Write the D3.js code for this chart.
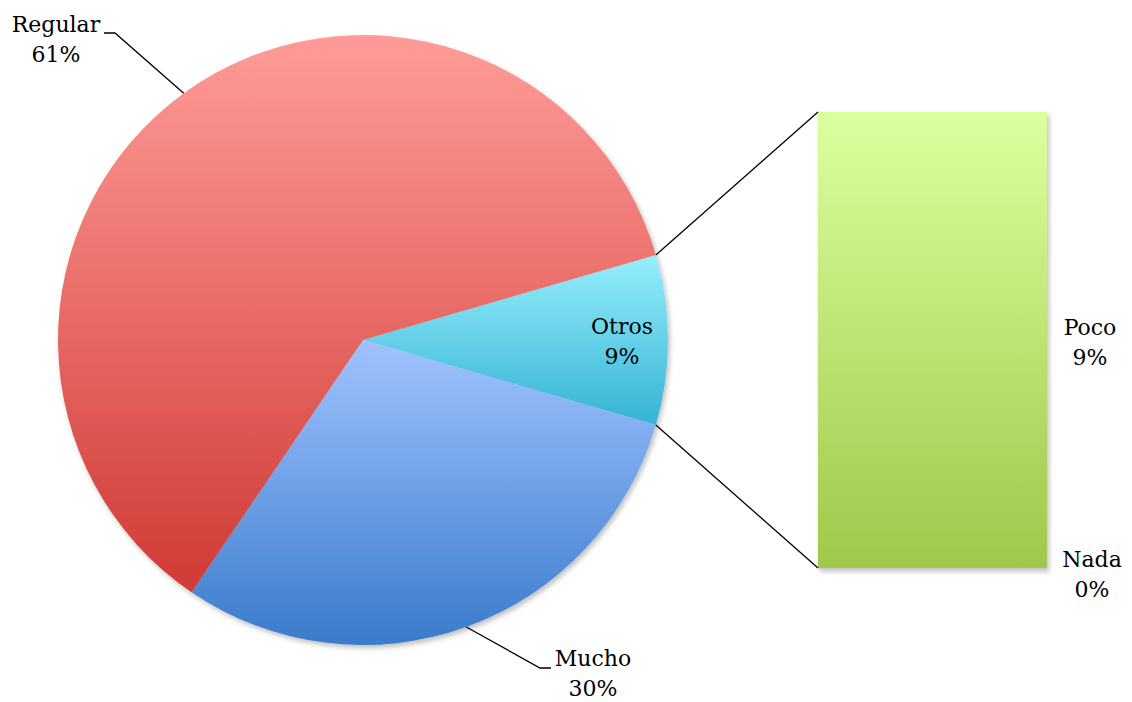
<!DOCTYPE html>
<html><head><meta charset="utf-8">
<script src="https://cdn.jsdelivr.net/npm/d3@7"></script>
<style>body{margin:0;background:#fff}svg{display:block}</style>
</head><body>
<svg id="c" width="1132" height="702"></svg>
<script>
// Data
const pieCategories = ["Otros", "Mucho", "Regular"];
const pieValues = [9, 30, 61];
const barCategories = ["Nada", "Poco"];
const barValues = [0, 9];
const pieLabels = ["Otros\n9%", "Mucho\n30%", "Regular\n61%"];
const barLabels = ["Nada\n0%", "Poco\n9%"];
const pieColors = [["#96eefc", "#34b3d3"], ["#a1c3ff", "#397bcb"], ["#ff9c98", "#d03a35"]];
const barColors = [["#c9a6e0", "#b48ad0"], ["#dcff9e", "#9fc84a"]];

const svg = d3.select("#c");
const cx = 363, cy = 340, R = 305;
const total = d3.sum(pieValues);
const defs = svg.append("defs");

const f = defs.append("filter").attr("id", "sh").attr("x", "-10%").attr("y", "-10%").attr("width", "120%").attr("height", "120%");
f.append("feDropShadow").attr("dx", 2).attr("dy", 3).attr("stdDeviation", 2.5).attr("flood-color", "#000").attr("flood-opacity", 0.25);

function grad(id, c) {
  const g = defs.append("linearGradient").attr("id", id).attr("x1", 0).attr("y1", 0).attr("x2", 0).attr("y2", 1);
  g.append("stop").attr("offset", "0%").attr("stop-color", c[0]);
  g.append("stop").attr("offset", "100%").attr("stop-color", c[1]);
}
pieColors.forEach((c, i) => grad("pg" + i, c));
barColors.forEach((c, i) => grad("bg" + i, c));

const otrosFrac = pieValues[0] / total;
const start = Math.PI / 2 - otrosFrac * Math.PI;
const pie = d3.pie().sort(null).value(d => d).startAngle(start).endAngle(start + 2 * Math.PI);
const arcs = pie(pieValues);
const arc = d3.arc().innerRadius(0).outerRadius(R);

const gp = svg.append("g").attr("transform", `translate(${cx},${cy})`).attr("filter", "url(#sh)");
gp.selectAll("path").data(arcs).join("path")
  .attr("d", arc)
  .attr("fill", (d, i) => `url(#pg${i})`);

// Bar
const bx0 = 818, bx1 = 1047, by0 = 112, by1 = 568;
const y = d3.scaleLinear().domain([0, d3.sum(barValues)]).range([by1, by0]);
let acc = 0;
const stacks = barValues.map(v => { const s = {y0: acc, y1: acc + v}; acc += v; return s; });
const gb = svg.append("g").attr("filter", "url(#sh)");
gb.selectAll("rect").data(stacks).join("rect")
  .attr("x", bx0).attr("width", bx1 - bx0)
  .attr("y", d => y(d.y1)).attr("height", d => Math.max(y(d.y0) - y(d.y1), 0))
  .attr("fill", (d, i) => `url(#bg${i})`);
gb.append("line").attr("x1", bx0).attr("x2", bx1).attr("y1", y(stacks[0].y1)).attr("y2", y(stacks[0].y1))
  .attr("stroke", "#c3a3dc").attr("stroke-width", 1.2);

// Connector lines
const a0 = arcs[0];
const pA = [cx + R * Math.sin(a0.startAngle), cy - R * Math.cos(a0.startAngle)];
const pB = [cx + R * Math.sin(a0.endAngle), cy - R * Math.cos(a0.endAngle)];
svg.append("line").attr("x1", pA[0]).attr("y1", pA[1]).attr("x2", bx0).attr("y2", by0).attr("stroke", "#000").attr("stroke-width", 1.3);
svg.append("line").attr("x1", pB[0]).attr("y1", pB[1]).attr("x2", bx0).attr("y2", by1).attr("stroke", "#000").attr("stroke-width", 1.3);

// Leader lines
function edge(a, r) { return [cx + r * Math.sin(a), cy - r * Math.cos(a)]; }
const regMid = (arcs[2].startAngle + arcs[2].endAngle) / 2;
const regE = edge(regMid, R);
svg.append("path").attr("d", `M${regE[0]},${regE[1]}L115,33L104,33`).attr("fill", "none").attr("stroke", "#000").attr("stroke-width", 1.3);
const muMid = (arcs[1].startAngle + arcs[1].endAngle) / 2;
const muE = edge(muMid, R);
svg.append("path").attr("d", `M${muE[0]},${muE[1]}L540,668L551,668`).attr("fill", "none").attr("stroke", "#000").attr("stroke-width", 1.3);

// Labels
const font = "'DejaVu Serif', serif";
function label(txt, x, yb) {
  const t = svg.append("text").attr("font-family", font).attr("font-size", 22).attr("fill", "#000").attr("text-anchor", "middle");
  txt.split("\n").forEach((s, i) => t.append("tspan").attr("x", x).attr("y", yb + i * 30).text(s));
}
label(pieLabels[2], 56, 32);
label(pieLabels[1], 593, 666);
label(pieLabels[0], 622, 334);
const pocoMid = (y(stacks[1].y0) + y(stacks[1].y1)) / 2;
label(barLabels[1], 1090, pocoMid - 5);
label(barLabels[0], 1092, y(stacks[0].y1) - 8 + 7);
</script>
</body></html>
